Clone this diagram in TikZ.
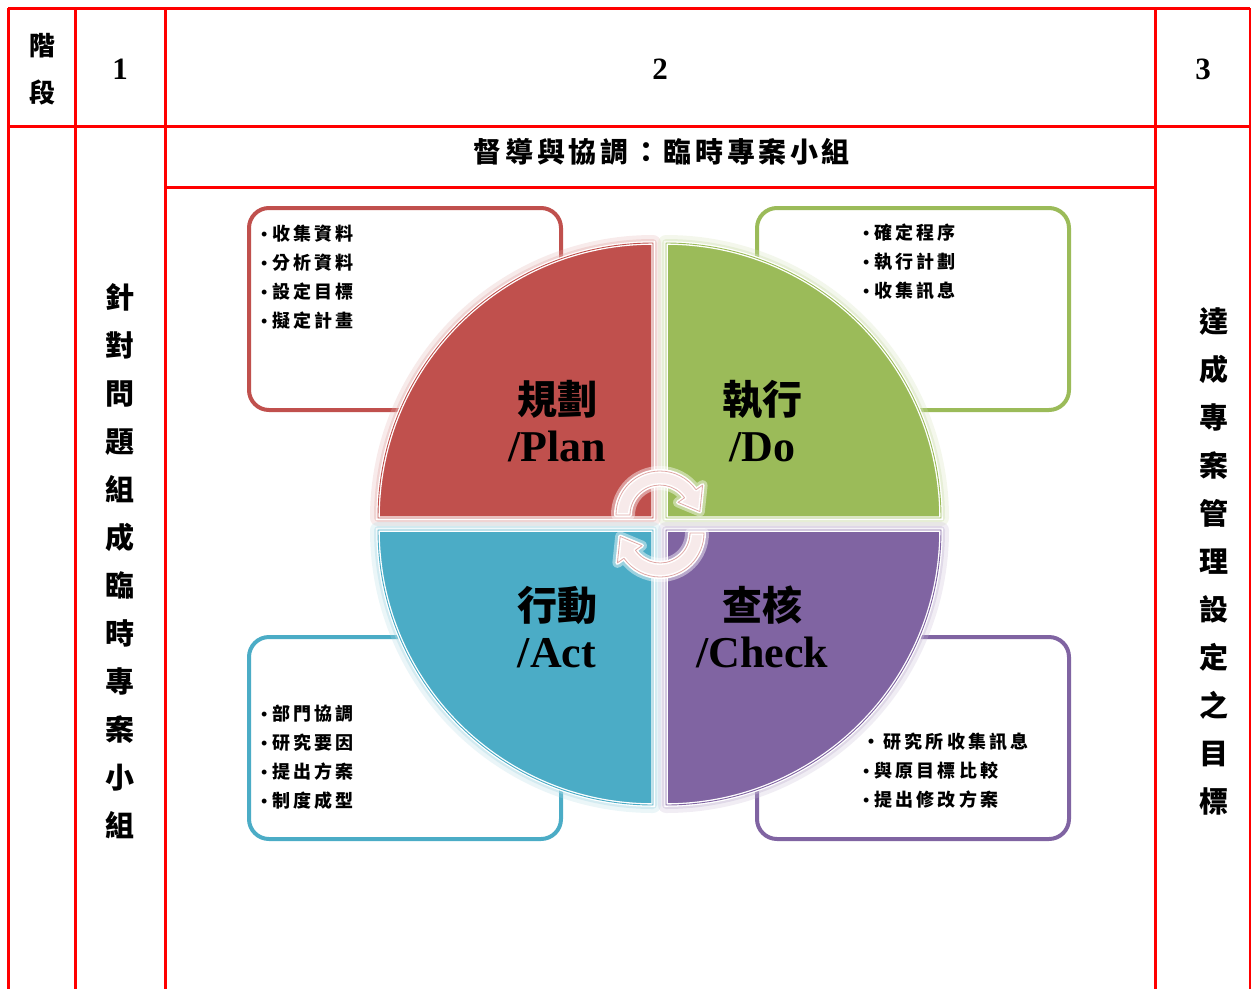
\documentclass[tikz,border=0pt]{standalone}
\usepackage{fontspec}
\setmainfont{Liberation Serif}
\newfontfamily\cjk{Noto Sans CJK TC}
\usetikzlibrary{positioning}
\definecolor{pdred}{RGB}{192,80,77}
\definecolor{pdgreen}{RGB}{155,187,89}
\definecolor{pdblue}{RGB}{75,172,198}
\definecolor{pdpurple}{RGB}{128,100,162}
\definecolor{tabred}{RGB}{255,0,0}
\tikzstyle{gridline} = [line width=3pt, color=tabred]
\tikzstyle{listbox} = [line width=4pt, rounded corners=20pt, fill=white, minimum width=312pt, minimum height=202pt, inner sep=0pt]
\tikzstyle{listtext} = [anchor=west, align=left, inner sep=0pt, font=\cjk\bfseries\fontsize{18}{29}\selectfont\addfontfeatures{LetterSpace=18}]
\tikzstyle{quadlabel} = [align=center, inner sep=0pt, font=\bfseries\fontsize{44}{47}\selectfont]
\tikzstyle{vtext} = [align=center, inner sep=0pt, font=\cjk\bfseries\fontsize{29}{48}\selectfont]
\tikzstyle{headnum} = [inner sep=0pt, font=\bfseries\fontsize{31}{31}\selectfont]
\newcommand{\bul}{\makebox[16pt][c]{\rmfamily\bfseries\textbullet}}
\newcommand{\arrowpath}{(180:44) arc[start angle=180, end angle=325, radius=44] -- (325:52) -- (355:40) -- (325:22) -- (325:30) arc[start angle=325, end angle=180, radius=30] -- cycle}

\begin{document}
\begin{tikzpicture}[x=1pt, y=-1pt]
\useasboundingbox (0,0) rectangle (1251,989);
% Table frame
\draw[gridline] (8,8) -- (1250,8);
\draw[gridline] (8,126) -- (1250,126);
\draw[gridline] (165,187) -- (1155,187);
\foreach \xx in {8,75,165,1155}
  \draw[gridline] (\xx,8) -- (\xx,989);
\draw[tabred, line width=2pt] (1250,8) -- (1250,989);

% Header row
\node[vtext, font=\cjk\bfseries\fontsize{26}{47}\selectfont] (stage) at (42,69) {階\\段};
\node[headnum] (col1) at (120,69) {1};
\node[headnum] (col2) at (660,69) {2};
\node[headnum] (col3) at (1203,69) {3};
\node[inner sep=0pt, font=\cjk\bfseries\fontsize{28}{28}\selectfont\addfontfeatures{LetterSpace=13}] (supervise) at (662,152) {督導與協調：臨時專案小組};

% Side columns
\node[vtext] (teamup) at (120,561) {針\\對\\問\\題\\組\\成\\臨\\時\\專\\案\\小\\組};
\node[vtext] (goal) at (1214,561) {達\\成\\專\\案\\管\\理\\設\\定\\之\\目\\標};

% Step boxes
\node[listbox, draw=pdred] (planbox) at (405,309) {};
\node[listbox, draw=pdgreen] (dobox) at (913,309) {};
\node[listbox, draw=pdblue] (actbox) at (405,738) {};
\node[listbox, draw=pdpurple] (checkbox) at (913,738) {};
\node[listtext] (plantext) at (256,277) {\bul 收集資料\\\bul 分析資料\\\bul 設定目標\\\bul 擬定計畫};
\node[listtext] (dotext) at (858,262) {\bul 確定程序\\\bul 執行計劃\\\bul 收集訊息};
\node[listtext] (acttext) at (256,757) {\bul 部門協調\\\bul 研究要因\\\bul 提出方案\\\bul 制度成型};
\node[listtext] (checktext) at (858,771) {\hspace{4pt}・研究所收集訊息\\\bul 與原目標比較\\\bul 提出修改方案};

% PDCA circle
\foreach \ax/\ay/\start/\col in {653/518/180/pdred, 666/518/270/pdgreen, 666/530/0/pdpurple, 653/530/90/pdblue} {
  \draw[\col!45, line width=16pt, opacity=.25, line join=round] (\ax,\ay) -- ++(\start:275) arc[start angle=\start, delta angle=90, radius=275] -- cycle;
  \draw[\col!45, line width=8pt, opacity=.4, line join=round] (\ax,\ay) -- ++(\start:275) arc[start angle=\start, delta angle=90, radius=275] -- cycle;
}
\foreach \ax/\ay/\start/\col in {653/518/180/pdred, 666/518/270/pdgreen, 666/530/0/pdpurple, 653/530/90/pdblue}
  \draw[fill=\col, draw=white, line width=1.3pt, double=\col, double distance=.9pt] (\ax,\ay) -- ++(\start:275) arc[start angle=\start, delta angle=90, radius=275] -- cycle;

% Cycle arrows
\foreach \cy/\rot in {515/0, 533/180} {
  \begin{scope}[shift={(660,\cy)}, rotate=\rot]
    \draw[white, line width=10pt, opacity=.45, line join=round] \arrowpath;
    \draw[fill=pdred!12, draw=white, line width=1.6pt, double=pdred!50, double distance=.8pt, line join=round] \arrowpath;
  \end{scope}
}

% Step labels
\node[quadlabel] (plan) at (557,421) {{\cjk\fontsize{40}{47}\selectfont 規劃}\\/Plan};
\node[quadlabel] (do) at (762,421) {{\cjk\fontsize{40}{47}\selectfont 執行}\\/Do};
\node[quadlabel] (act) at (557,627) {{\cjk\fontsize{40}{47}\selectfont 行動}\\/Act};
\node[quadlabel] (check) at (762,627) {{\cjk\fontsize{40}{47}\selectfont 查核}\\/Check};
\end{tikzpicture}
\end{document}
